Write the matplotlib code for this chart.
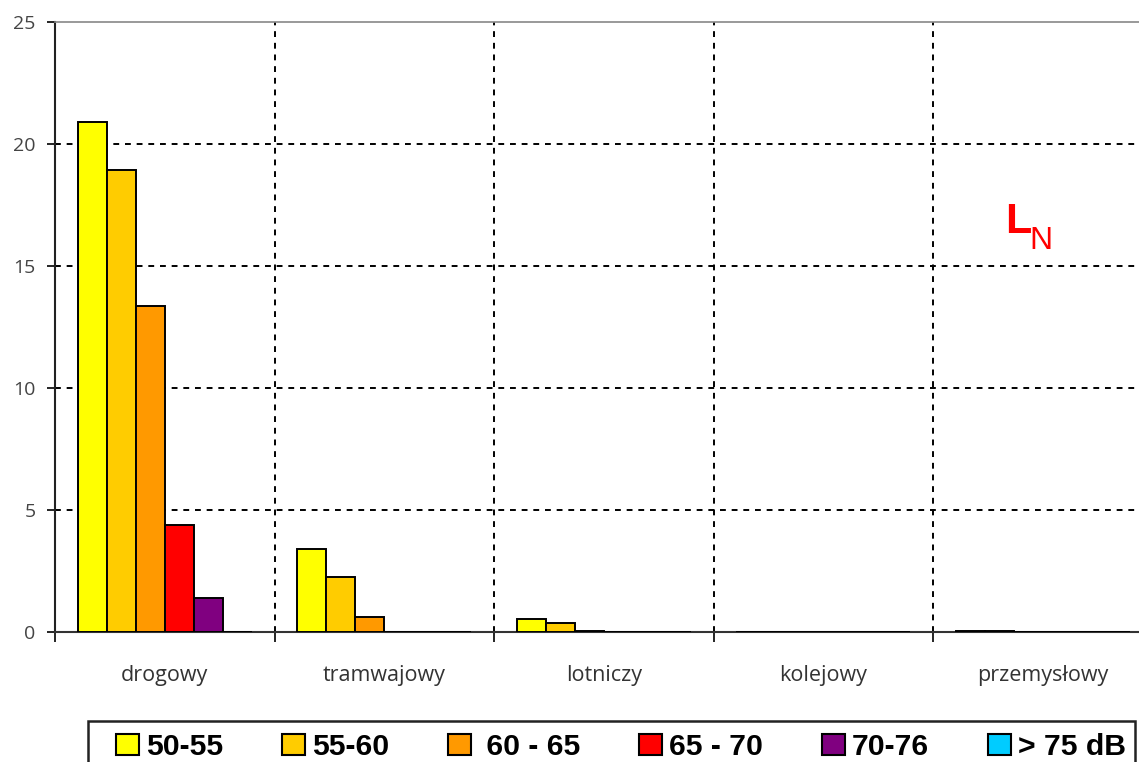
import matplotlib
matplotlib.use('Agg')
import matplotlib.pyplot as plt
from matplotlib.patches import Rectangle
import numpy as np

# kategorie źródeł hałasu
kategorie = ["drogowy", "tramwajowy", "lotniczy", "kolejowy", "przemysłowy"]
przedzialy = ["50-55", "55-60", " 60 - 65", "65 - 70", "70-76", "> 75 dB"]
kolory = ["#FFFF00", "#FFCC00", "#FF9900", "#FF0000", "#800080", "#00CCFF"]

# wartości dla każdego przedziału (kolejno dla kategorii)
w_50_55 = [20.9, 3.4, 0.53, 0.0, 0.05]
w_55_60 = [18.95, 2.25, 0.37, 0.0, 0.05]
w_60_65 = [13.35, 0.6, 0.05, 0.0, 0.0]
w_65_70 = [4.4, 0.0, 0.0, 0.0, 0.0]
w_70_76 = [1.38, 0.0, 0.0, 0.0, 0.0]
w_75 = [0.0, 0.0, 0.0, 0.0, 0.0]
serie = [w_50_55, w_55_60, w_60_65, w_65_70, w_70_76, w_75]

W, H = 1139, 762
fig = plt.figure(figsize=(W / 100, H / 100), dpi=100)
ax = fig.add_axes([55 / W, 1 - 632 / H, 1097.5 / W, 610 / H])

x = np.arange(len(kategorie)) + 0.5
szer = 29 / 219.5
for i, (s, k) in enumerate(zip(serie, kolory)):
    ax.bar(x + (i - 2.5) * szer, s, szer, color=k, edgecolor='black',
           linewidth=1.4, label=przedzialy[i], zorder=3)

ax.set_xlim(0, 5)
ax.set_ylim(0, 25)
ax.set_yticks([0, 5, 10, 15, 20, 25])
ax.set_xticks(np.arange(0, 6))
ax.set_xticklabels([])
ax.set_xticks(x, minor=True)
ax.set_xticklabels(kategorie, minor=True, fontsize=15.5, color='#333333',
                   family='Open Sans')
ax.tick_params(axis='x', which='minor', length=0, pad=24)
ax.tick_params(axis='x', which='major', length=7, width=1.2, direction='out')
ax.tick_params(axis='y', length=6, width=1.2, labelsize=14, labelcolor='#444444', pad=8)
for t in ax.get_yticklabels():
    t.set_family('Open Sans')

ax.grid(True, which='major', linestyle=(0, (3, 3)), color='black', linewidth=1.4, zorder=0)
ax.yaxis.get_gridlines()[-1].set_visible(False)
ax.spines['right'].set_visible(False)
ax.spines['top'].set_color('#888888')
ax.spines['top'].set_linewidth(1.2)
ax.spines['left'].set_linewidth(1.5)
ax.spines['bottom'].set_linewidth(1.5)
ax.spines['bottom'].set_color('#333333')
ax.spines['left'].set_color('#222222')

# oznaczenie L_N
ax.text(4.33, 16.35, "L", color='red', fontsize=31, fontweight='bold',
        family='Liberation Sans', ha='left', va='baseline')
ax.text(4.44, 15.7, "N", color='red', fontsize=23, family='Liberation Sans',
        ha='left', va='baseline')

# ramka legendy
fig.patches.append(Rectangle((88 / W, -0.05), (1135 - 88) / W, 1 - 721 / H + 0.05,
                             transform=fig.transFigure, facecolor='none',
                             edgecolor='#222222', linewidth=1.8))
leg = fig.legend(loc='upper left', bbox_to_anchor=(116 / W, 1 - 733 / H),
                 ncol=6, frameon=False,
                 prop={'family': 'Liberation Sans', 'weight': 'bold', 'size': 21.7},
                 handlelength=0.77, handleheight=0.73, handletextpad=0.23,
                 columnspacing=1.95, borderpad=0, borderaxespad=0)
for h in leg.legend_handles:
    h.set_linewidth(1.5)

fig.savefig("out.png", dpi=100)
